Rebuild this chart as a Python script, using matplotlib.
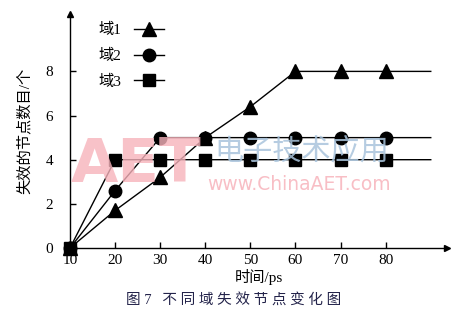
import numpy as np
from matplotlib import pyplot as plt

plt.rcParams['font.family'] = ['Liberation Serif', 'Noto Sans CJK SC']

time_ps = [10, 20, 30, 40, 50, 60, 70, 80]
domain1 = [0, 1.7, 3.2, 5.0, 6.4, 8, 8, 8]
domain2 = [0, 2.6, 5.0, 5.0, 5.0, 5.0, 5.0, 5.0]
domain3 = [0, 4, 4, 4, 4, 4, 4, 4]
line_end = 90
labels = ['域1', '域2', '域3']
x_ticks = [10, 20, 30, 40, 50, 60, 70, 80]
y_ticks = [0, 2, 4, 6, 8]

fig = plt.figure(figsize=(4.64, 3.27), dpi=100)
ax = fig.add_axes([70 / 464, 1 - 248 / 327, 377 / 464, 234 / 327])

series = [(domain1, '^', 9.5), (domain2, 'o', 9), (domain3, 's', 8.5)]
for (vals, mk, ms), lab in zip(series, labels):
    xs = time_ps + [line_end]
    ys = vals + [vals[-1]]
    ax.plot(xs, ys, color='black', lw=1.0, zorder=2)
    ax.plot(time_ps, vals, linestyle='none', marker=mk, ms=ms, color='black',
            clip_on=False, zorder=3)
    ax.plot([], [], color='black', lw=1.0, marker=mk, ms=ms, label=lab)

ax.set_xlim(10, 93.6)
ax.set_ylim(0, 10.6)
ax.set_xticks(x_ticks)
ax.set_yticks(y_ticks)
ax.tick_params(direction='in', length=4, width=1, labelsize=11)
ax.tick_params(axis='y', pad=12)
ax.tick_params(axis='x', pad=4)
for s in ['top', 'right']:
    ax.spines[s].set_visible(False)
for s in ['left', 'bottom']:
    ax.spines[s].set_linewidth(1.0)
ax.plot(1, 0, '>', color='black', ms=5, transform=ax.transAxes, clip_on=False)
ax.plot(0, 1, '^', color='black', ms=5, transform=ax.transAxes, clip_on=False)

ax.set_xlabel('时间/ps', fontsize=11, labelpad=2)
ax.set_ylabel('失效的节点数目/个', fontsize=11, labelpad=10)

ax.legend(loc='upper left', bbox_to_anchor=(0.04, 1.02), frameon=False,
          markerfirst=False, fontsize=11, handlelength=2.0, labelspacing=0.75,
          handletextpad=0.8)

# watermark
fig.text(136 / 464, 1 - 165 / 327, 'AET', fontsize=44, fontweight='bold',
         family='DejaVu Sans', color='#f7b3bb', alpha=0.8, ha='center',
         va='center', zorder=0)
fig.text(302 / 464, 1 - 152 / 327, '电子技术应用', fontsize=21, color='#a9c4dc',
         alpha=0.85, ha='center', va='center', zorder=0)
fig.text(299 / 464, 1 - 185 / 327, 'www.ChinaAET.com', fontsize=13.5,
         family='DejaVu Sans', color='#f7b3bb', alpha=0.85, ha='center',
         va='center', zorder=0)

fig.text(234 / 464, 1 - 300 / 327, '图 7   不 同 域 失 效 节 点 变 化 图', fontsize=10.5,
         color='#23234a', ha='center', va='center')

fig.savefig('out.png', dpi=100)
